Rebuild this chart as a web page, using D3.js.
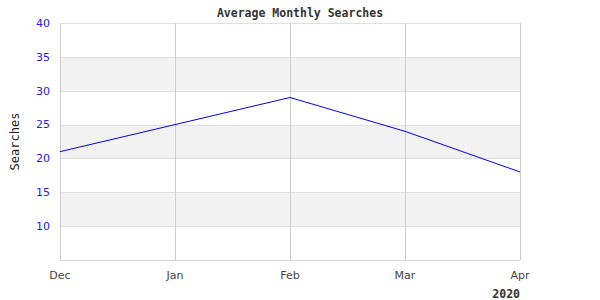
<!DOCTYPE html>
<html>
<head>
<meta charset="utf-8">
<script src="https://cdn.jsdelivr.net/npm/d3@7"></script>
<style>
  body { margin: 0; background: #fff; }
</style>
</head>
<body>
<div id="chart"></div>
<script>
const months = ["Dec", "Jan", "Feb", "Mar", "Apr"];
const searches = [21, 25, 29, 24, 18];
const yTicks = [10, 15, 20, 25, 30, 35, 40];
const bands = [[30, 35], [20, 25], [10, 15]];

const W = 600, H = 300;
const margin = { top: 23, right: 80, bottom: 40, left: 60 };

const svg = d3.select("#chart").append("svg")
  .attr("width", W).attr("height", H);

const x = d3.scalePoint().domain(months).range([margin.left, W - margin.right]);
const y = d3.scaleLinear().domain([5, 40]).range([H - margin.bottom, margin.top]);

// alternating bands
svg.append("g").selectAll("rect").data(bands).enter().append("rect")
  .attr("x", margin.left)
  .attr("y", d => y(d[1]))
  .attr("width", x.range()[1] - margin.left)
  .attr("height", d => y(d[0]) - y(d[1]))
  .attr("fill", "#f2f2f2");

// horizontal grid
svg.append("g").selectAll("line").data(yTicks).enter().append("line")
  .attr("x1", margin.left).attr("x2", W - margin.right)
  .attr("y1", d => Math.round(y(d)) + 0.5).attr("y2", d => Math.round(y(d)) + 0.5)
  .attr("stroke", "#e0e0e0");

// vertical grid
svg.append("g").selectAll("line").data(months).enter().append("line")
  .attr("x1", d => Math.round(x(d)) + 0.5).attr("x2", d => Math.round(x(d)) + 0.5)
  .attr("y1", margin.top).attr("y2", H - margin.bottom)
  .attr("stroke", "#cccccc");

// plot bottom border
svg.append("line")
  .attr("x1", margin.left).attr("x2", W - margin.right)
  .attr("y1", H - margin.bottom + 0.5).attr("y2", H - margin.bottom + 0.5)
  .attr("stroke", "#d6d6d6");

// y axis labels
svg.append("g").selectAll("text").data(yTicks).enter().append("text")
  .attr("x", 50)
  .attr("y", d => y(d))
  .attr("dy", "0.35em")
  .attr("text-anchor", "end")
  .style("font-family", "DejaVu Sans")
  .style("font-size", "11px")
  .attr("fill", "#2222ee")
  .text(d => d);

// x axis labels
svg.append("g").selectAll("text").data(months).enter().append("text")
  .attr("x", d => x(d))
  .attr("y", 279)
  .attr("text-anchor", "middle")
  .style("font-family", "DejaVu Sans")
  .style("font-size", "11px")
  .attr("fill", "#444")
  .text(d => d);

// line
const line = d3.line().x((d, i) => x(months[i])).y(d => y(d));
svg.append("path")
  .datum(searches)
  .attr("d", line)
  .attr("fill", "none")
  .attr("stroke", "#0000ff")
  .attr("stroke-width", 1);

// title
svg.append("text")
  .attr("x", 300).attr("y", 17)
  .attr("text-anchor", "middle")
  .style("font-family", "DejaVu Sans Mono")
  .style("font-size", "11.5px")
  .style("font-weight", "bold")
  .attr("fill", "#333")
  .text("Average Monthly Searches");

// year label
svg.append("text")
  .attr("x", 520).attr("y", 298)
  .attr("text-anchor", "end")
  .style("font-family", "DejaVu Sans Mono")
  .style("font-size", "11.5px")
  .style("font-weight", "bold")
  .attr("fill", "#333")
  .text("2020");

// y axis title
svg.append("text")
  .attr("transform", "translate(19," + ((margin.top + H - margin.bottom) / 2) + ") rotate(-90)")
  .attr("text-anchor", "middle")
  .style("font-family", "DejaVu Sans Mono")
  .style("font-size", "12px")
  .attr("fill", "#222")
  .text("Searches");
</script>
</body>
</html>
